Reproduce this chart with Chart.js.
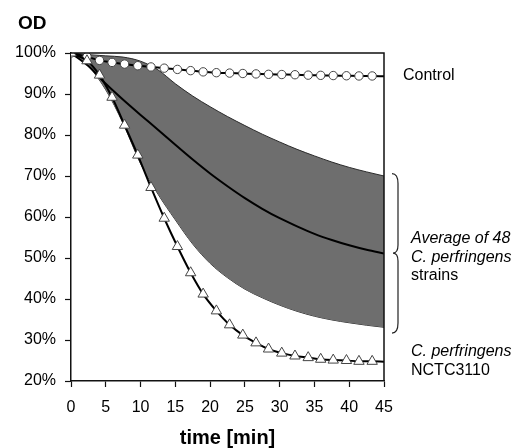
<!DOCTYPE html>
<html>
<head>
<meta charset="utf-8">
<script src="https://cdn.jsdelivr.net/npm/chart.js@4.4.1/dist/chart.umd.min.js"></script>
<style>
  body { margin: 0; background: #fff; }
  #wrap { position: relative; width: 522px; height: 448px; font-family: "Liberation Sans", Arial, sans-serif; color: #000; }
  #chart { position: absolute; left: 0; top: 0; }
  .lbl { position: absolute; font-size: 16px; line-height: 18.5px; white-space: nowrap; }
  .it { font-style: italic; }
</style>
</head>
<body>
<div id="wrap">
  <canvas id="chart" width="522" height="448"></canvas>
  <div class="lbl" style="left:18px; top:10px; font-size:19px; font-weight:bold; line-height:26px;">OD</div>
  <div class="lbl" style="left:403px; top:66px;">Control</div>
  <div class="lbl" style="left:411px; top:229px;"><span class="it">Average of 48</span><br><span class="it">C. perfringens</span><br>strains</div>
  <div class="lbl" style="left:411px; top:342px;"><span class="it">C. perfringens</span><br>NCTC3110</div>
</div>
<script>
  // sampling times of the marked series (min), last one is the line end
  var markTimes = [0, 2.3, 4.1, 5.9, 7.7, 9.6, 11.5, 13.4, 15.3, 17.2, 19.0, 20.9, 22.8, 24.7, 26.6, 28.4, 30.3, 32.2, 34.1, 35.9, 37.7, 39.6, 41.4, 43.3, 45];
  var control = [100, 99.1, 98.2, 97.7, 97.3, 96.9, 96.6, 96.3, 96.0, 95.7, 95.4, 95.2, 95.1, 95.0, 94.9, 94.8, 94.75, 94.7, 94.6, 94.55, 94.5, 94.45, 94.4, 94.4, 94.3];
  var nctc3110 = [100, 98.1, 94.6, 89.2, 82.4, 75.1, 67.2, 59.7, 52.8, 46.4, 41.2, 37.1, 33.7, 31.2, 29.3, 27.8, 26.8, 26.1, 25.7, 25.3, 25.1, 25.0, 24.8, 24.8, 24.7];

  // average of 48 strains and its range
  var bandTimes = [0, 2.5, 5, 7.5, 10, 12.5, 15, 17.5, 20, 22.5, 25, 27.5, 30, 32.5, 35, 37.5, 40, 42.5, 45];
  var average = [100, 96.8, 92.5, 88.6, 84.9, 81.3, 77.6, 74.0, 70.6, 67.5, 64.6, 62.0, 59.7, 57.7, 55.9, 54.4, 53.1, 52.0, 51.1];
  var upper = [100, 99.6, 99.3, 99.0, 98.0, 95.9, 92.5, 89.5, 86.9, 84.5, 82.3, 80.2, 78.3, 76.5, 74.9, 73.4, 72.1, 71.0, 70.0];
  var lower = [100, 96.8, 91.0, 82.8, 73.0, 65.6, 59.3, 53.4, 48.7, 45.2, 42.4, 40.3, 38.5, 37.0, 35.8, 34.9, 34.2, 33.6, 33.1];

  var xTicks = [0, 5, 10, 15, 20, 25, 30, 35, 40, 45];
  var yTicks = [20, 30, 40, 50, 60, 70, 80, 90, 100];

  function pts(xs, ys) {
    return xs.map(function (x, i) { return { x: x, y: ys[i] }; });
  }
  // no marker on the final line end point
  function markRadius(r) {
    return function (c) { return c.dataIndex === markTimes.length - 1 ? 0 : r; };
  }

  var frame = {
    id: 'frame',
    afterDraw: function (chart) {
      var ctx = chart.ctx, a = chart.chartArea, y = chart.scales.y;
      ctx.save();
      ctx.strokeStyle = '#111';
      ctx.lineWidth = 1.5;
      ctx.beginPath();
      ctx.moveTo(a.left, a.top);
      ctx.lineTo(a.right, a.top);
      ctx.lineTo(a.right, a.bottom);
      ctx.stroke();

      // brace next to the strain range
      var x0 = a.right + 8, x1 = a.right + 14;
      var yT = y.getPixelForValue(70.6), yM = y.getPixelForValue(51.2), yB = y.getPixelForValue(31.7);
      ctx.lineWidth = 1.2;
      ctx.strokeStyle = '#222';
      ctx.beginPath();
      ctx.moveTo(x0, yT);
      ctx.quadraticCurveTo(x1, yT, x1, yT + 10);
      ctx.lineTo(x1, yM - 8);
      ctx.quadraticCurveTo(x1, yM, x0 + 1, yM);
      ctx.quadraticCurveTo(x1, yM, x1, yM + 8);
      ctx.lineTo(x1, yB - 10);
      ctx.quadraticCurveTo(x1, yB, x0, yB);
      ctx.stroke();
      ctx.restore();
    }
  };

  var tickFont = { family: '"Liberation Sans", Arial, sans-serif', size: 16 };

  new Chart(document.getElementById('chart'), {
    type: 'line',
    data: {
      datasets: [
        {
          label: 'NCTC3110',
          data: pts(markTimes, nctc3110),
          borderColor: '#000', borderWidth: 2,
          pointStyle: 'triangle', pointRadius: markRadius(6),
          pointBackgroundColor: '#fff', pointBorderColor: '#444', pointBorderWidth: 1,
          cubicInterpolationMode: 'monotone', fill: false
        },
        {
          label: 'Control',
          data: pts(markTimes, control),
          borderColor: '#000', borderWidth: 2,
          pointStyle: 'circle', pointRadius: markRadius(4.2),
          pointBackgroundColor: '#fff', pointBorderColor: '#444', pointBorderWidth: 1,
          cubicInterpolationMode: 'monotone', fill: false
        },
        {
          label: 'Average',
          data: pts(bandTimes, average),
          borderColor: '#000', borderWidth: 2, pointRadius: 0,
          cubicInterpolationMode: 'monotone', fill: false
        },
        {
          label: 'Upper',
          data: pts(bandTimes, upper),
          borderColor: '#2a2a2a', borderWidth: 1, pointRadius: 0,
          backgroundColor: '#6e6e6e',
          cubicInterpolationMode: 'monotone', fill: '+1'
        },
        {
          label: 'Lower',
          data: pts(bandTimes, lower),
          borderColor: '#2a2a2a', borderWidth: 1, pointRadius: 0,
          cubicInterpolationMode: 'monotone', fill: false
        }
      ]
    },
    options: {
      responsive: false,
      animation: false,
      layout: { padding: { top: 53, right: 138, left: 0, bottom: 0 } },
      plugins: { legend: { display: false }, tooltip: { enabled: false } },
      scales: {
        x: {
          type: 'linear', min: 0, max: 45,
          afterFit: function (s) { s.height = 67; },
          afterBuildTicks: function (s) { s.ticks = xTicks.map(function (v) { return { value: v }; }); },
          grid: { drawOnChartArea: false, drawTicks: true, tickLength: 6, tickColor: '#111', tickWidth: 1.2 },
          border: { display: true, color: '#111', width: 1.5 },
          ticks: { color: '#000', font: tickFont, padding: 11, maxRotation: 0 },
          title: {
            display: true, text: 'time [min]', color: '#000',
            font: { family: '"Liberation Sans", Arial, sans-serif', size: 20, weight: 'bold', lineHeight: 1 },
            padding: { top: 0, bottom: 0 }
          }
        },
        y: {
          min: 20, max: 100,
          afterFit: function (s) { s.width = 71; },
          afterBuildTicks: function (s) { s.ticks = yTicks.map(function (v) { return { value: v }; }); },
          grid: { drawOnChartArea: false, drawTicks: true, tickLength: 6, tickColor: '#111', tickWidth: 1.2 },
          border: { display: true, color: '#111', width: 1.5 },
          ticks: { color: '#000', font: tickFont, padding: 9, callback: function (v) { return v + '%'; } }
        }
      }
    },
    plugins: [frame]
  });
</script>
</body>
</html>
